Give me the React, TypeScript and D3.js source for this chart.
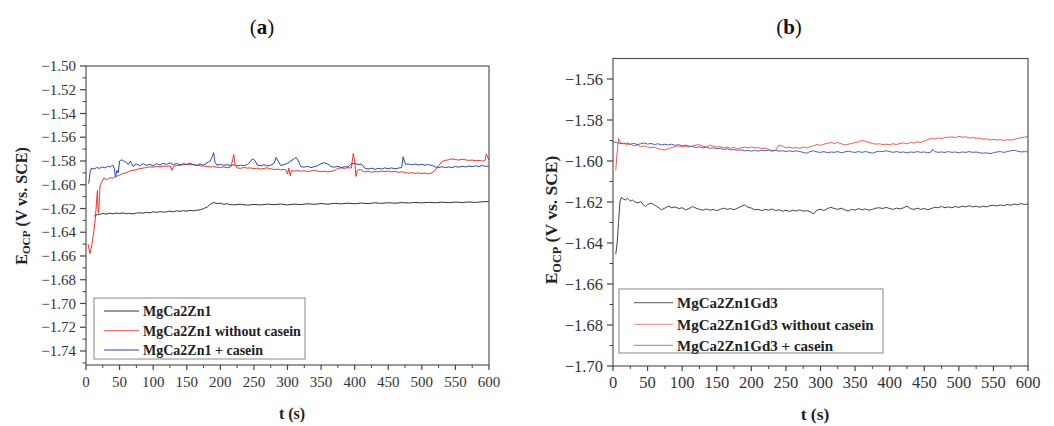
import React from 'react'
import * as d3 from 'd3'

// ---- panel (a) data: t (s), E (V vs. SCE) ----
const aBlack: [number, number][] = [
  [12,-1.6265],[15,-1.6255],[20,-1.6250],[25,-1.6242],[30,-1.6248],[35,-1.6240],[40,-1.6245],[45,-1.6238],[50,-1.6243],[55,-1.6237],
  [60,-1.6245],[65,-1.6240],[70,-1.6246],[75,-1.6238],[80,-1.6236],[85,-1.6240],[90,-1.6232],[95,-1.6236],[100,-1.6228],[105,-1.6233],
  [110,-1.6226],[115,-1.6231],[120,-1.6228],[125,-1.6222],[130,-1.6228],[135,-1.6220],[140,-1.6224],[145,-1.6218],[150,-1.6222],[155,-1.6216],
  [160,-1.6220],[165,-1.6214],[170,-1.6212],[175,-1.6200],[180,-1.6190],[185,-1.6165],[190,-1.6150],[195,-1.6158],[200,-1.6155],[205,-1.6165],
  [210,-1.6160],[215,-1.6168],[220,-1.6170],[230,-1.6164],[240,-1.6172],[250,-1.6166],[260,-1.6170],[270,-1.6163],[280,-1.6168],[290,-1.6162],
  [300,-1.6170],[310,-1.6163],[320,-1.6167],[330,-1.6160],[340,-1.6165],[350,-1.6158],[360,-1.6164],[370,-1.6157],[380,-1.6161],[390,-1.6155],
  [400,-1.6160],[410,-1.6154],[420,-1.6159],[430,-1.6152],[440,-1.6157],[450,-1.6151],[460,-1.6156],[470,-1.6150],[480,-1.6154],[490,-1.6149],
  [500,-1.6153],[510,-1.6148],[520,-1.6152],[530,-1.6147],[540,-1.6151],[550,-1.6146],[560,-1.6150],[570,-1.6145],[580,-1.6149],[590,-1.6143],[600,-1.6142],
]
const aRed: [number, number][] = [
  [3,-1.650],[6,-1.658],[9,-1.650],[12,-1.638],[14,-1.628],[16,-1.612],[17,-1.605],[18,-1.622],[19,-1.624],[20,-1.610],[21,-1.601],[23,-1.598],
  [25,-1.596],[27,-1.594],[30,-1.596],[33,-1.595],[36,-1.594],[40,-1.5945],[45,-1.593],[50,-1.592],[55,-1.5905],[60,-1.590],[65,-1.5885],[70,-1.588],
  [75,-1.5872],[80,-1.5865],[85,-1.586],[90,-1.5855],[95,-1.585],[100,-1.5852],[105,-1.5846],[110,-1.5850],[115,-1.5842],[120,-1.5846],[125,-1.5840],
  [128,-1.5880],[130,-1.5845],[135,-1.5838],[140,-1.5835],[145,-1.5832],[150,-1.5828],[155,-1.5832],[160,-1.5830],[165,-1.5835],[170,-1.5840],
  [175,-1.5842],[180,-1.5846],[185,-1.5850],[190,-1.5848],[195,-1.5852],[200,-1.5855],[205,-1.5850],[210,-1.5856],[215,-1.5852],[218,-1.5800],
  [220,-1.5745],[222,-1.5830],[225,-1.5858],[230,-1.5862],[235,-1.5855],[240,-1.5860],[245,-1.5858],[250,-1.5865],[255,-1.5860],[260,-1.5868],
  [265,-1.5862],[270,-1.5858],[275,-1.5866],[280,-1.5872],[285,-1.5868],[290,-1.5875],[295,-1.5870],[298,-1.5880],[300,-1.5910],[302,-1.5860],
  [304,-1.5925],[306,-1.5880],[310,-1.5885],[315,-1.5880],[320,-1.5886],[325,-1.5882],[330,-1.5888],[335,-1.5884],[340,-1.5880],[345,-1.5885],
  [350,-1.5890],[355,-1.5886],[360,-1.5892],[365,-1.5888],[370,-1.5880],[375,-1.5862],[380,-1.5858],[385,-1.5862],[390,-1.5856],[395,-1.5860],
  [398,-1.5735],[400,-1.5800],[402,-1.5930],[404,-1.5880],[408,-1.5870],[412,-1.5885],[415,-1.5892],[420,-1.5886],[425,-1.5895],[430,-1.5888],
  [435,-1.5892],[440,-1.5885],[445,-1.5890],[450,-1.5884],[455,-1.5892],[460,-1.5888],[465,-1.5895],[470,-1.5890],[475,-1.5898],[480,-1.5902],
  [485,-1.5898],[490,-1.5905],[495,-1.5900],[500,-1.5906],[505,-1.5902],[510,-1.5908],[515,-1.5900],[520,-1.5875],[525,-1.5840],[530,-1.5805],
  [535,-1.5795],[540,-1.5790],[545,-1.5782],[550,-1.5788],[555,-1.5792],[560,-1.5785],[565,-1.5790],[570,-1.5795],[575,-1.5792],[580,-1.5798],
  [585,-1.5795],[590,-1.5800],[594,-1.5798],[596,-1.5740],[598,-1.5770],[600,-1.5792],
]
const aBlue: [number, number][] = [
  [4,-1.5990],[6,-1.5900],[8,-1.5860],[12,-1.5868],[16,-1.5855],[20,-1.5862],[24,-1.5850],[28,-1.5858],[32,-1.5845],[36,-1.5850],[40,-1.5835],
  [42,-1.5860],[44,-1.5935],[46,-1.5880],[48,-1.5900],[50,-1.5800],[53,-1.5790],[56,-1.5800],[60,-1.5810],[63,-1.5830],[66,-1.5800],[70,-1.5845],
  [75,-1.5825],[80,-1.5840],[85,-1.5822],[90,-1.5838],[95,-1.5828],[100,-1.5840],[105,-1.5822],[110,-1.5835],[115,-1.5818],[120,-1.5830],
  [125,-1.5815],[130,-1.5832],[135,-1.5820],[140,-1.5835],[145,-1.5822],[150,-1.5830],[155,-1.5818],[160,-1.5832],[165,-1.5838],[170,-1.5825],
  [175,-1.5835],[180,-1.5815],[185,-1.5800],[188,-1.5760],[190,-1.5730],[192,-1.5810],[195,-1.5835],[200,-1.5828],[205,-1.5838],[210,-1.5830],
  [215,-1.5840],[220,-1.5832],[225,-1.5842],[230,-1.5835],[235,-1.5840],[240,-1.5830],[245,-1.5805],[248,-1.5780],[252,-1.5800],[255,-1.5835],
  [260,-1.5840],[265,-1.5832],[270,-1.5842],[275,-1.5835],[280,-1.5820],[283,-1.5770],[286,-1.5800],[290,-1.5838],[295,-1.5830],[300,-1.5820],
  [305,-1.5800],[310,-1.5780],[313,-1.5770],[316,-1.5800],[320,-1.5848],[325,-1.5852],[330,-1.5845],[335,-1.5855],[340,-1.5848],[345,-1.5840],
  [350,-1.5822],[355,-1.5815],[360,-1.5825],[365,-1.5848],[370,-1.5852],[375,-1.5845],[380,-1.5855],[385,-1.5848],[390,-1.5850],[395,-1.5825],
  [400,-1.5820],[405,-1.5830],[410,-1.5825],[415,-1.5860],[420,-1.5868],[425,-1.5860],[430,-1.5870],[435,-1.5862],[440,-1.5868],[445,-1.5858],
  [450,-1.5865],[455,-1.5858],[460,-1.5866],[465,-1.5860],[470,-1.5855],[472,-1.5765],[474,-1.5800],[476,-1.5830],[480,-1.5825],[485,-1.5832],
  [490,-1.5826],[495,-1.5834],[500,-1.5828],[505,-1.5835],[510,-1.5830],[515,-1.5838],[520,-1.5850],[525,-1.5855],[530,-1.5848],[535,-1.5856],
  [540,-1.5850],[545,-1.5855],[550,-1.5846],[555,-1.5852],[560,-1.5845],[565,-1.5850],[570,-1.5842],[575,-1.5848],[580,-1.5840],[585,-1.5846],
  [590,-1.5838],[595,-1.5845],[600,-1.5842],
]

// ---- panel (b) data ----
const bBlack: [number, number][] = [
  [4,-1.6455],[6,-1.6400],[8,-1.6300],[10,-1.6200],[12,-1.6178],[15,-1.6185],[18,-1.6190],[21,-1.6182],[25,-1.6195],[28,-1.6190],[32,-1.6200],
  [36,-1.6205],[40,-1.6198],[44,-1.6215],[47,-1.6222],[50,-1.6212],[55,-1.6205],[60,-1.6215],[65,-1.6225],[70,-1.6238],[75,-1.6230],[80,-1.6220],
  [85,-1.6228],[90,-1.6224],[95,-1.6232],[100,-1.6228],[105,-1.6238],[110,-1.6232],[115,-1.6222],[120,-1.6230],[125,-1.6236],[130,-1.6240],
  [135,-1.6234],[140,-1.6240],[145,-1.6236],[150,-1.6242],[155,-1.6236],[160,-1.6230],[165,-1.6236],[170,-1.6232],[175,-1.6238],[180,-1.6230],
  [185,-1.6222],[190,-1.6214],[195,-1.6225],[200,-1.6230],[205,-1.6238],[210,-1.6236],[215,-1.6242],[220,-1.6236],[225,-1.6240],[230,-1.6234],
  [235,-1.6242],[240,-1.6238],[245,-1.6245],[250,-1.6240],[255,-1.6246],[260,-1.6240],[265,-1.6244],[270,-1.6238],[275,-1.6245],[280,-1.6242],
  [285,-1.6248],[290,-1.6258],[295,-1.6240],[300,-1.6235],[305,-1.6242],[310,-1.6232],[315,-1.6226],[320,-1.6232],[325,-1.6236],[330,-1.6230],
  [335,-1.6238],[340,-1.6244],[345,-1.6236],[350,-1.6240],[355,-1.6232],[360,-1.6238],[365,-1.6234],[370,-1.6240],[375,-1.6236],[380,-1.6230],
  [385,-1.6228],[390,-1.6232],[395,-1.6226],[400,-1.6232],[405,-1.6236],[410,-1.6230],[415,-1.6234],[420,-1.6228],[425,-1.6220],[430,-1.6232],
  [435,-1.6236],[440,-1.6230],[445,-1.6236],[450,-1.6232],[455,-1.6238],[460,-1.6232],[465,-1.6226],[470,-1.6228],[475,-1.6222],[480,-1.6228],
  [485,-1.6224],[490,-1.6228],[495,-1.6222],[500,-1.6226],[505,-1.6220],[510,-1.6224],[515,-1.6218],[520,-1.6224],[525,-1.6220],[530,-1.6226],
  [535,-1.6220],[540,-1.6224],[545,-1.6218],[550,-1.6216],[555,-1.6220],[560,-1.6214],[565,-1.6218],[570,-1.6212],[575,-1.6216],[580,-1.6210],
  [585,-1.6214],[590,-1.6208],[595,-1.6212],[600,-1.6210],
]
const bRed: [number, number][] = [
  [4,-1.6045],[6,-1.5960],[8,-1.5890],[10,-1.5905],[12,-1.5915],[15,-1.5912],[20,-1.5922],[25,-1.5918],[30,-1.5926],[35,-1.5922],[40,-1.5930],
  [45,-1.5926],[50,-1.5932],[55,-1.5936],[60,-1.5932],[65,-1.5940],[70,-1.5944],[75,-1.5946],[80,-1.5940],[85,-1.5934],[90,-1.5930],[95,-1.5926],
  [100,-1.5932],[105,-1.5928],[110,-1.5932],[115,-1.5926],[120,-1.5922],[125,-1.5920],[130,-1.5928],[135,-1.5932],[140,-1.5922],[145,-1.5928],
  [150,-1.5932],[155,-1.5930],[160,-1.5936],[165,-1.5932],[170,-1.5938],[175,-1.5934],[180,-1.5940],[185,-1.5936],[190,-1.5932],[195,-1.5936],
  [200,-1.5932],[205,-1.5936],[210,-1.5934],[215,-1.5940],[220,-1.5936],[225,-1.5944],[230,-1.5950],[235,-1.5948],[240,-1.5922],[245,-1.5928],
  [250,-1.5935],[255,-1.5932],[260,-1.5938],[265,-1.5934],[270,-1.5938],[275,-1.5932],[280,-1.5936],[285,-1.5930],[290,-1.5926],[295,-1.5920],
  [300,-1.5924],[305,-1.5918],[310,-1.5914],[315,-1.5910],[320,-1.5914],[325,-1.5910],[330,-1.5916],[335,-1.5922],[340,-1.5918],[345,-1.5915],
  [350,-1.5910],[355,-1.5906],[360,-1.5900],[365,-1.5904],[370,-1.5910],[375,-1.5914],[380,-1.5918],[385,-1.5916],[390,-1.5920],[395,-1.5918],
  [400,-1.5920],[405,-1.5916],[410,-1.5920],[415,-1.5914],[420,-1.5912],[425,-1.5916],[430,-1.5910],[435,-1.5912],[440,-1.5906],[445,-1.5910],
  [450,-1.5902],[455,-1.5896],[460,-1.5890],[465,-1.5892],[470,-1.5888],[475,-1.5890],[480,-1.5886],[485,-1.5884],[490,-1.5882],[495,-1.5886],
  [500,-1.5880],[505,-1.5884],[510,-1.5882],[515,-1.5888],[520,-1.5885],[525,-1.5890],[530,-1.5888],[535,-1.5894],[540,-1.5892],[545,-1.5898],
  [550,-1.5894],[555,-1.5898],[560,-1.5895],[565,-1.5900],[570,-1.5896],[575,-1.5898],[580,-1.5895],[585,-1.5890],[590,-1.5886],[595,-1.5884],[600,-1.5881],
]
const bBlue: [number, number][] = [
  [0,-1.5906],[5,-1.5910],[10,-1.5914],[15,-1.5916],[20,-1.5912],[25,-1.5918],[30,-1.5914],[35,-1.5920],[40,-1.5916],[45,-1.5912],[50,-1.5918],
  [55,-1.5914],[60,-1.5920],[65,-1.5916],[70,-1.5922],[75,-1.5918],[80,-1.5922],[85,-1.5918],[90,-1.5924],[95,-1.5920],[100,-1.5926],[105,-1.5922],
  [110,-1.5928],[115,-1.5930],[120,-1.5934],[125,-1.5930],[130,-1.5936],[135,-1.5932],[140,-1.5938],[145,-1.5936],[150,-1.5940],[155,-1.5938],
  [160,-1.5944],[165,-1.5940],[170,-1.5946],[175,-1.5944],[180,-1.5948],[185,-1.5946],[190,-1.5950],[195,-1.5948],[200,-1.5952],[205,-1.5948],
  [210,-1.5952],[215,-1.5948],[220,-1.5950],[225,-1.5946],[230,-1.5952],[235,-1.5948],[240,-1.5952],[245,-1.5950],[250,-1.5954],[255,-1.5950],
  [260,-1.5954],[265,-1.5950],[270,-1.5954],[275,-1.5958],[280,-1.5962],[285,-1.5954],[290,-1.5950],[295,-1.5956],[300,-1.5958],[305,-1.5954],
  [310,-1.5960],[315,-1.5956],[320,-1.5958],[325,-1.5954],[330,-1.5960],[335,-1.5956],[340,-1.5952],[345,-1.5956],[350,-1.5958],[355,-1.5954],
  [360,-1.5958],[365,-1.5954],[370,-1.5958],[375,-1.5962],[380,-1.5956],[385,-1.5952],[390,-1.5954],[395,-1.5950],[400,-1.5954],[405,-1.5958],
  [410,-1.5954],[415,-1.5958],[420,-1.5956],[425,-1.5960],[430,-1.5956],[435,-1.5958],[440,-1.5954],[445,-1.5958],[450,-1.5956],[455,-1.5960],
  [460,-1.5956],[462,-1.5942],[465,-1.5954],[470,-1.5958],[475,-1.5956],[480,-1.5958],[485,-1.5954],[490,-1.5958],[495,-1.5956],[500,-1.5960],
  [505,-1.5956],[510,-1.5958],[515,-1.5954],[520,-1.5958],[525,-1.5956],[530,-1.5960],[535,-1.5962],[540,-1.5960],[545,-1.5964],[550,-1.5960],
  [555,-1.5956],[560,-1.5954],[565,-1.5958],[570,-1.5954],[575,-1.5950],[580,-1.5948],[585,-1.5952],[590,-1.5956],[595,-1.5954],[600,-1.5956],
]

const aLegend = ['MgCa2Zn1', 'MgCa2Zn1 without casein', 'MgCa2Zn1 + casein']
const bLegend = ['MgCa2Zn1Gd3', 'MgCa2Zn1Gd3 without casein', 'MgCa2Zn1Gd3 + casein']
const xTicks = [0, 50, 100, 150, 200, 250, 300, 350, 400, 450, 500, 550, 600]
const aYTicks = [-1.74, -1.72, -1.70, -1.68, -1.66, -1.64, -1.62, -1.60, -1.58, -1.56, -1.54, -1.52, -1.50]
const bYTicks = [-1.70, -1.68, -1.66, -1.64, -1.62, -1.60, -1.58, -1.56]

const FONT = '"Liberation Serif", "DejaVu Serif", serif'
const fmt = d3.format('.2f')

type PanelProps = {
  title: string
  x0: number; x1: number; yTop: number; yBottom: number
  yDomain: [number, number]
  yTicks: number[]
  series: { data: [number, number][]; color: string }[]
  legend: string[]
  legendColors: string[]
  legendBox: { x: number; y: number; w: number; h: number; lineX: number; lineW: number; rows: number[] }
  tickFont: number
  labelFont: number
  legendFont: number
  yLabel: { x: number; y: number }
  xLabel: { x: number; y: number }
  titleX: number
}

const Panel = (p: PanelProps) => {
  const x = d3.scaleLinear().domain([0, 600]).range([p.x0, p.x1])
  const y = d3.scaleLinear().domain(p.yDomain).range([p.yBottom, p.yTop])
  const line = d3.line<[number, number]>().x(d => x(d[0])).y(d => y(d[1]))
  const step = p.yTicks[1] - p.yTicks[0]
  const yMinor = p.yTicks.map(v => v - step / 2).filter(v => v >= p.yDomain[0] - 1e-9)
  const xMinor = xTicks.slice(1).map(v => v - 25)
  const lb = p.legendBox
  return (
    <g>
      <text x={p.titleX} y={34} textAnchor="middle" fontFamily={FONT} fontSize={21} fill="#111">
        (<tspan fontWeight="bold">{p.title}</tspan>)
      </text>
      {p.series.map((s, i) => (
        <path key={i} d={line(s.data) || ''} fill="none" stroke={s.color} strokeWidth={1} strokeLinejoin="round" />
      ))}
      <rect x={p.x0} y={p.yTop} width={p.x1 - p.x0} height={p.yBottom - p.yTop} fill="none" stroke="#555" strokeWidth={1.2} />
      {p.yTicks.map(v => (
        <g key={v}>
          <line x1={p.x0 - 6} x2={p.x0} y1={y(v)} y2={y(v)} stroke="#444" strokeWidth={1.2} />
          <text x={p.x0 - 10} y={y(v)} dy="0.35em" textAnchor="end" fontFamily={FONT} fontSize={p.tickFont} fill="#333">{fmt(v)}</text>
        </g>
      ))}
      {yMinor.map(v => (
        <line key={v} x1={p.x0 - 3.5} x2={p.x0} y1={y(v)} y2={y(v)} stroke="#444" strokeWidth={1} />
      ))}
      {xTicks.map(v => (
        <g key={v}>
          <line x1={x(v)} x2={x(v)} y1={p.yBottom} y2={p.yBottom + 5} stroke="#444" strokeWidth={1.2} />
          <text x={x(v)} y={p.yBottom + 22} textAnchor="middle" fontFamily={FONT} fontSize={p.tickFont} fill="#333">{v}</text>
        </g>
      ))}
      {xMinor.map(v => (
        <line key={v} x1={x(v)} x2={x(v)} y1={p.yBottom} y2={p.yBottom + 3} stroke="#444" strokeWidth={1} />
      ))}
      <rect x={lb.x} y={lb.y} width={lb.w} height={lb.h} fill="#fff" stroke="#888" strokeWidth={1} />
      {p.legend.map((name, i) => (
        <g key={name}>
          <line x1={lb.lineX} x2={lb.lineX + lb.lineW} y1={lb.rows[i]} y2={lb.rows[i]} stroke={p.legendColors[i]} strokeWidth={1.3} />
          <text x={lb.lineX + lb.lineW + 4} y={lb.rows[i]} dy="0.35em" fontFamily={FONT} fontWeight="bold" fontSize={p.legendFont} fill="#222">{name}</text>
        </g>
      ))}
      <text transform={`translate(${p.yLabel.x},${p.yLabel.y}) rotate(-90)`} textAnchor="middle" fontFamily={FONT} fontWeight="bold" fontSize={p.labelFont} fill="#222">
        E<tspan fontSize={p.labelFont * 0.7} dy="0.3em">OCP</tspan><tspan dy="-0.21em"> (V vs. SCE)</tspan>
      </text>
      <text x={p.xLabel.x} y={p.xLabel.y} textAnchor="middle" fontFamily={FONT} fontWeight="bold" fontSize={p.labelFont} fill="#222">t (s)</text>
    </g>
  )
}

const App = () => (
  <div style={{ position: 'absolute', left: 0, top: 0 }}>
    <svg width={1054} height={426} style={{ display: 'block', background: '#fff' }}>
      <Panel
        title="a" titleX={262}
        x0={86} x1={489} yTop={66} yBottom={365}
        yDomain={[-1.7518, -1.50]} yTicks={aYTicks}
        series={[{ data: aBlack, color: '#333' }, { data: aRed, color: '#e8382b' }, { data: aBlue, color: '#2b48a6' }]}
        legend={aLegend} legendColors={['#777', '#f07068', '#6f82c2']}
        legendBox={{ x: 94, y: 298, w: 211, h: 61, lineX: 104, lineW: 35, rows: [311, 330.7, 350] }}
        tickFont={15} labelFont={16} legendFont={14}
        yLabel={{ x: 27, y: 206 }} xLabel={{ x: 292, y: 419 }}
      />
      <Panel
        title="b" titleX={789}
        x0={613} x1={1028} yTop={58.5} yBottom={366}
        yDomain={[-1.70, -1.55]} yTicks={bYTicks}
        series={[{ data: bBlack, color: '#444' }, { data: bRed, color: '#f05a50' }, { data: bBlue, color: '#4a62b8' }]}
        legend={bLegend} legendColors={['#777', '#f39a95', '#8f9fd6']}
        legendBox={{ x: 619, y: 289, w: 264, h: 64, lineX: 634, lineW: 39, rows: [302.7, 324.3, 345.3] }}
        tickFont={16.5} labelFont={17.5} legendFont={15}
        yLabel={{ x: 557, y: 220 }} xLabel={{ x: 815, y: 420 }}
      />
    </svg>
  </div>
)

export default App
